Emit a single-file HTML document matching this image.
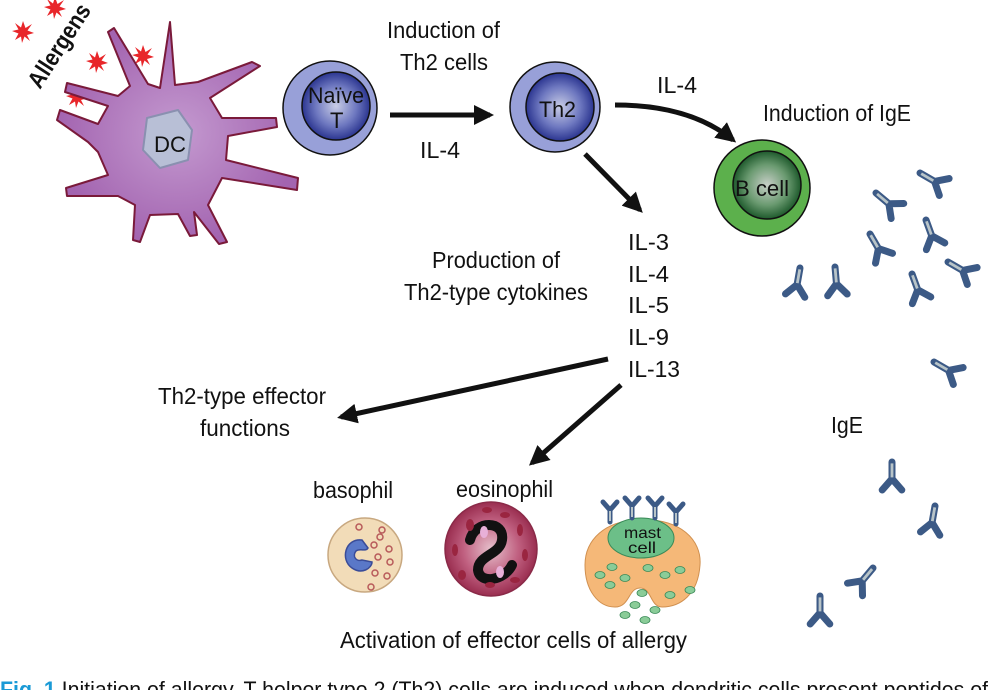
<!DOCTYPE html>
<html><head><meta charset="utf-8"><style>
html,body{margin:0;padding:0;background:#fff;}
svg{display:block;}
text{font-family:"Liberation Sans Narrow","Liberation Sans",sans-serif;fill:#111;}
</style></head><body>
<svg width="988" height="690" viewBox="0 0 988 690" xmlns="http://www.w3.org/2000/svg">
<defs>
<radialGradient id="blueIn" cx="50%" cy="50%" r="50%"><stop offset="0" stop-color="#c9cde6"/><stop offset="0.6" stop-color="#6e78c0"/><stop offset="1" stop-color="#2b3590"/></radialGradient>
<radialGradient id="greenIn" cx="50%" cy="50%" r="50%"><stop offset="0" stop-color="#c8cfc8"/><stop offset="0.6" stop-color="#6a9a70"/><stop offset="1" stop-color="#1e5a2c"/></radialGradient>
<radialGradient id="dcG" cx="50%" cy="50%" r="50%"><stop offset="0" stop-color="#c49ad0"/><stop offset="1" stop-color="#a364b0"/></radialGradient>
<radialGradient id="eoG" cx="50%" cy="50%" r="50%"><stop offset="0" stop-color="#e6c0cc"/><stop offset="0.6" stop-color="#c06080"/><stop offset="1" stop-color="#9a2e50"/></radialGradient>
<marker id="ah" viewBox="0 0 10 10" refX="8" refY="5" markerWidth="4" markerHeight="4" orient="auto"><path d="M0,0 L10,5 L0,10 z" fill="#111"/></marker>
<g id="ab"><path d="M0,0 L0,12 M0,12 L-7,20 M0,12 L7,20" stroke="#3c5a86" stroke-width="5" fill="none" stroke-linecap="round"/><path d="M0,1 L0,11" stroke="#b8c4c8" stroke-width="2"/></g>
<g id="star"><polygon points="0,-11 2.5,-4 9,-8 4.5,-1.5 11,1 4,3 7,9 1.5,4.5 -1,11 -2,4.5 -8,8 -4.5,1.5 -11,-1 -4.5,-2.5 -8,-9 -2,-4.5" fill="#e8262a"/></g>
</defs>

<!-- allergens -->
<use href="#star" x="23" y="32"/><use href="#star" x="55" y="8"/><use href="#star" x="97" y="62"/><use href="#star" x="77" y="97"/><use href="#star" x="143" y="56"/>
<text x="0" y="0" transform="translate(40,90) rotate(-57)" font-size="24" font-weight="bold" textLength="95" lengthAdjust="spacingAndGlyphs">Allergens</text>

<!-- DC -->
<polygon points="160,88 170,22 175,85 198,82 252,62 260,66 210,98 222,118 276,118 277,127 228,136 226,160 298,178 297,190 222,178 208,205 227,242 219,244 194,212 197,235 190,236 178,214 150,215 140,242 133,240 135,205 118,196 67,196 66,188 108,175 98,152 88,142 57,120 60,110 98,124 108,106 65,92 67,83 118,96 130,86 108,32 114,28 148,84" fill="url(#dcG)" stroke="#7a1a3a" stroke-width="2" stroke-linejoin="round"/>
<path d="M147,118 L178,110 L192,130 L188,160 L160,168 L143,150 Z" fill="#b8bfd6" stroke="#8a90b0" stroke-width="2" stroke-linejoin="round"/>
<text x="154" y="152" font-size="22" textLength="32" lengthAdjust="spacingAndGlyphs">DC</text>

<!-- Naive T -->
<circle cx="330" cy="108" r="47" fill="#98a0d8" stroke="#111" stroke-width="1.5"/>
<circle cx="336" cy="106" r="34" fill="url(#blueIn)" stroke="#111" stroke-width="1.5"/>
<text x="308" y="103" font-size="22" textLength="56" lengthAdjust="spacingAndGlyphs">Naïve</text>
<text x="330" y="128" font-size="22">T</text>

<!-- Th2 -->
<circle cx="555" cy="107" r="45" fill="#98a0d8" stroke="#111" stroke-width="1.5"/>
<circle cx="560" cy="107" r="34" fill="url(#blueIn)" stroke="#111" stroke-width="1.5"/>
<text x="539" y="117" font-size="22" textLength="37" lengthAdjust="spacingAndGlyphs">Th2</text>

<!-- B cell -->
<circle cx="762" cy="188" r="48" fill="#5cb04c" stroke="#111" stroke-width="1.5"/>
<circle cx="767" cy="185" r="34" fill="url(#greenIn)" stroke="#111" stroke-width="1.5"/>
<text x="735" y="196" font-size="22" textLength="54" lengthAdjust="spacingAndGlyphs">B cell</text>

<!-- arrows -->
<g stroke="#111" stroke-width="5" fill="none">
<line x1="390" y1="115" x2="490" y2="115" marker-end="url(#ah)"/>
<path d="M615,105 Q690,105 733,140" marker-end="url(#ah)"/>
<line x1="585" y1="154" x2="640" y2="210" marker-end="url(#ah)"/>
<line x1="608" y1="359" x2="341" y2="417" marker-end="url(#ah)"/>
<line x1="621" y1="385" x2="532" y2="463" marker-end="url(#ah)"/>
</g>

<!-- texts -->
<text x="387" y="38" font-size="23" textLength="113" lengthAdjust="spacingAndGlyphs">Induction of</text>
<text x="400" y="70" font-size="23" textLength="88" lengthAdjust="spacingAndGlyphs">Th2 cells</text>
<text x="420" y="158" font-size="23" textLength="40" lengthAdjust="spacingAndGlyphs">IL-4</text>
<text x="657" y="93" font-size="23" textLength="40" lengthAdjust="spacingAndGlyphs">IL-4</text>
<text x="763" y="121" font-size="23" textLength="148" lengthAdjust="spacingAndGlyphs">Induction of IgE</text>
<text x="432" y="268" font-size="23" textLength="128" lengthAdjust="spacingAndGlyphs">Production of</text>
<text x="404" y="300" font-size="23" textLength="184" lengthAdjust="spacingAndGlyphs">Th2-type cytokines</text>
<text x="628" y="250" font-size="23" textLength="41" lengthAdjust="spacingAndGlyphs">IL-3</text>
<text x="628" y="282" font-size="23" textLength="41" lengthAdjust="spacingAndGlyphs">IL-4</text>
<text x="628" y="313" font-size="23" textLength="41" lengthAdjust="spacingAndGlyphs">IL-5</text>
<text x="628" y="345" font-size="23" textLength="41" lengthAdjust="spacingAndGlyphs">IL-9</text>
<text x="628" y="377" font-size="23" textLength="52" lengthAdjust="spacingAndGlyphs">IL-13</text>
<text x="158" y="404" font-size="23" textLength="168" lengthAdjust="spacingAndGlyphs">Th2-type effector</text>
<text x="200" y="436" font-size="23" textLength="90" lengthAdjust="spacingAndGlyphs">functions</text>
<text x="831" y="433" font-size="23" textLength="32" lengthAdjust="spacingAndGlyphs">IgE</text>
<text x="313" y="498" font-size="23" textLength="80" lengthAdjust="spacingAndGlyphs">basophil</text>
<text x="456" y="497" font-size="23" textLength="97" lengthAdjust="spacingAndGlyphs">eosinophil</text>
<text x="340" y="648" font-size="23" textLength="347" lengthAdjust="spacingAndGlyphs">Activation of effector cells of allergy</text>
<text x="0" y="697" font-size="22" textLength="988" lengthAdjust="spacingAndGlyphs"><tspan fill="#1a9ad6" font-weight="bold">Fig. 1</tspan> Initiation of allergy. T helper type 2 (Th2) cells are induced when dendritic cells present peptides of</text>

<!-- basophil -->
<circle cx="365" cy="555" r="37" fill="#f2dcb8" stroke="#c8a880" stroke-width="1.5"/>
<path d="M362,540 C345,538 340,560 352,568 C362,575 372,568 372,562 L362,560 C356,562 352,556 356,551 C360,548 366,552 368,548 Z" fill="#5a78c8" stroke="#3a4c98" stroke-width="1.5"/>
<g fill="none" stroke="#b85a5a" stroke-width="1.5"><circle cx="359" cy="527" r="3"/><circle cx="380" cy="537" r="3"/><circle cx="374" cy="545" r="3"/><circle cx="389" cy="549" r="3"/><circle cx="378" cy="557" r="3"/><circle cx="390" cy="562" r="3"/><circle cx="375" cy="573" r="3"/><circle cx="387" cy="576" r="3"/><circle cx="371" cy="587" r="3"/><circle cx="382" cy="530" r="3"/></g>

<!-- eosinophil -->
<ellipse cx="491" cy="549" rx="46" ry="47" fill="url(#eoG)" stroke="#8a2a48" stroke-width="1.5"/>
<path d="M470,540 C475,520 505,520 502,540 C500,555 478,555 478,570 C480,585 505,580 512,565" fill="none" stroke="#111" stroke-width="10" stroke-linecap="round"/>
<g fill="#e8b0d8"><ellipse cx="484" cy="532" rx="4" ry="6"/><ellipse cx="500" cy="572" rx="4" ry="6"/></g>
<g fill="#9a2540"><ellipse cx="470" cy="525" rx="4" ry="6"/><ellipse cx="505" cy="515" rx="5" ry="3"/><ellipse cx="520" cy="530" rx="3" ry="6"/><ellipse cx="525" cy="555" rx="3" ry="6"/><ellipse cx="515" cy="580" rx="5" ry="3"/><ellipse cx="490" cy="585" rx="5" ry="3"/><ellipse cx="462" cy="575" rx="4" ry="5"/><ellipse cx="455" cy="550" rx="3" ry="6"/><ellipse cx="487" cy="510" rx="5" ry="3"/></g>

<!-- mast cell -->
<path d="M640,520 C680,518 702,540 700,565 C698,595 680,607 662,607 C650,607 652,588 640,588 C628,588 630,607 615,607 C598,607 585,590 585,565 C585,540 605,520 640,520 Z" fill="#f5b878" stroke="#d09050" stroke-width="1"/>
<ellipse cx="641" cy="538" rx="33" ry="20" fill="#6cbf88" stroke="#3a8a58" stroke-width="1"/>
<text x="624" y="538" font-size="16" textLength="37" lengthAdjust="spacingAndGlyphs">mast</text>
<text x="628" y="553" font-size="16" textLength="28" lengthAdjust="spacingAndGlyphs">cell</text>
<g fill="#8acc98" stroke="#3a8a58" stroke-width="0.8"><ellipse cx="612" cy="567" rx="5" ry="3.5"/><ellipse cx="600" cy="575" rx="5" ry="3.5"/><ellipse cx="625" cy="578" rx="5" ry="3.5"/><ellipse cx="648" cy="568" rx="5" ry="3.5"/><ellipse cx="665" cy="575" rx="5" ry="3.5"/><ellipse cx="680" cy="570" rx="5" ry="3.5"/><ellipse cx="610" cy="585" rx="5" ry="3.5"/><ellipse cx="690" cy="590" rx="5" ry="3.5"/><ellipse cx="670" cy="595" rx="5" ry="3.5"/><ellipse cx="642" cy="593" rx="5" ry="3.5"/><ellipse cx="635" cy="605" rx="5" ry="3.5"/><ellipse cx="655" cy="610" rx="5" ry="3.5"/><ellipse cx="625" cy="615" rx="5" ry="3.5"/><ellipse cx="645" cy="620" rx="5" ry="3.5"/></g>
<g transform="translate(610,522) rotate(180)"><use href="#ab"/></g>
<g transform="translate(632,518) rotate(180)"><use href="#ab"/></g>
<g transform="translate(655,518) rotate(180)"><use href="#ab"/></g>
<g transform="translate(676,524) rotate(180)"><use href="#ab"/></g>

<!-- IgE antibodies -->
<g transform="translate(920,173) rotate(-60) scale(1.4)"><use href="#ab"/></g>
<g transform="translate(876,193) rotate(-50) scale(1.4)"><use href="#ab"/></g>
<g transform="translate(926,220) rotate(-20) scale(1.4)"><use href="#ab"/></g>
<g transform="translate(870,234) rotate(-30) scale(1.4)"><use href="#ab"/></g>
<g transform="translate(948,262) rotate(-60) scale(1.4)"><use href="#ab"/></g>
<g transform="translate(912,274) rotate(-20) scale(1.4)"><use href="#ab"/></g>
<g transform="translate(800,268) rotate(10) scale(1.4)"><use href="#ab"/></g>
<g transform="translate(835,267) rotate(-5) scale(1.4)"><use href="#ab"/></g>
<g transform="translate(934,362) rotate(-60) scale(1.4)"><use href="#ab"/></g>
<g transform="translate(892,462) rotate(0) scale(1.4)"><use href="#ab"/></g>
<g transform="translate(935,506) rotate(10) scale(1.4)"><use href="#ab"/></g>
<g transform="translate(873,568) rotate(40) scale(1.4)"><use href="#ab"/></g>
<g transform="translate(820,596) rotate(0) scale(1.4)"><use href="#ab"/></g>
</svg>
</body></html>
